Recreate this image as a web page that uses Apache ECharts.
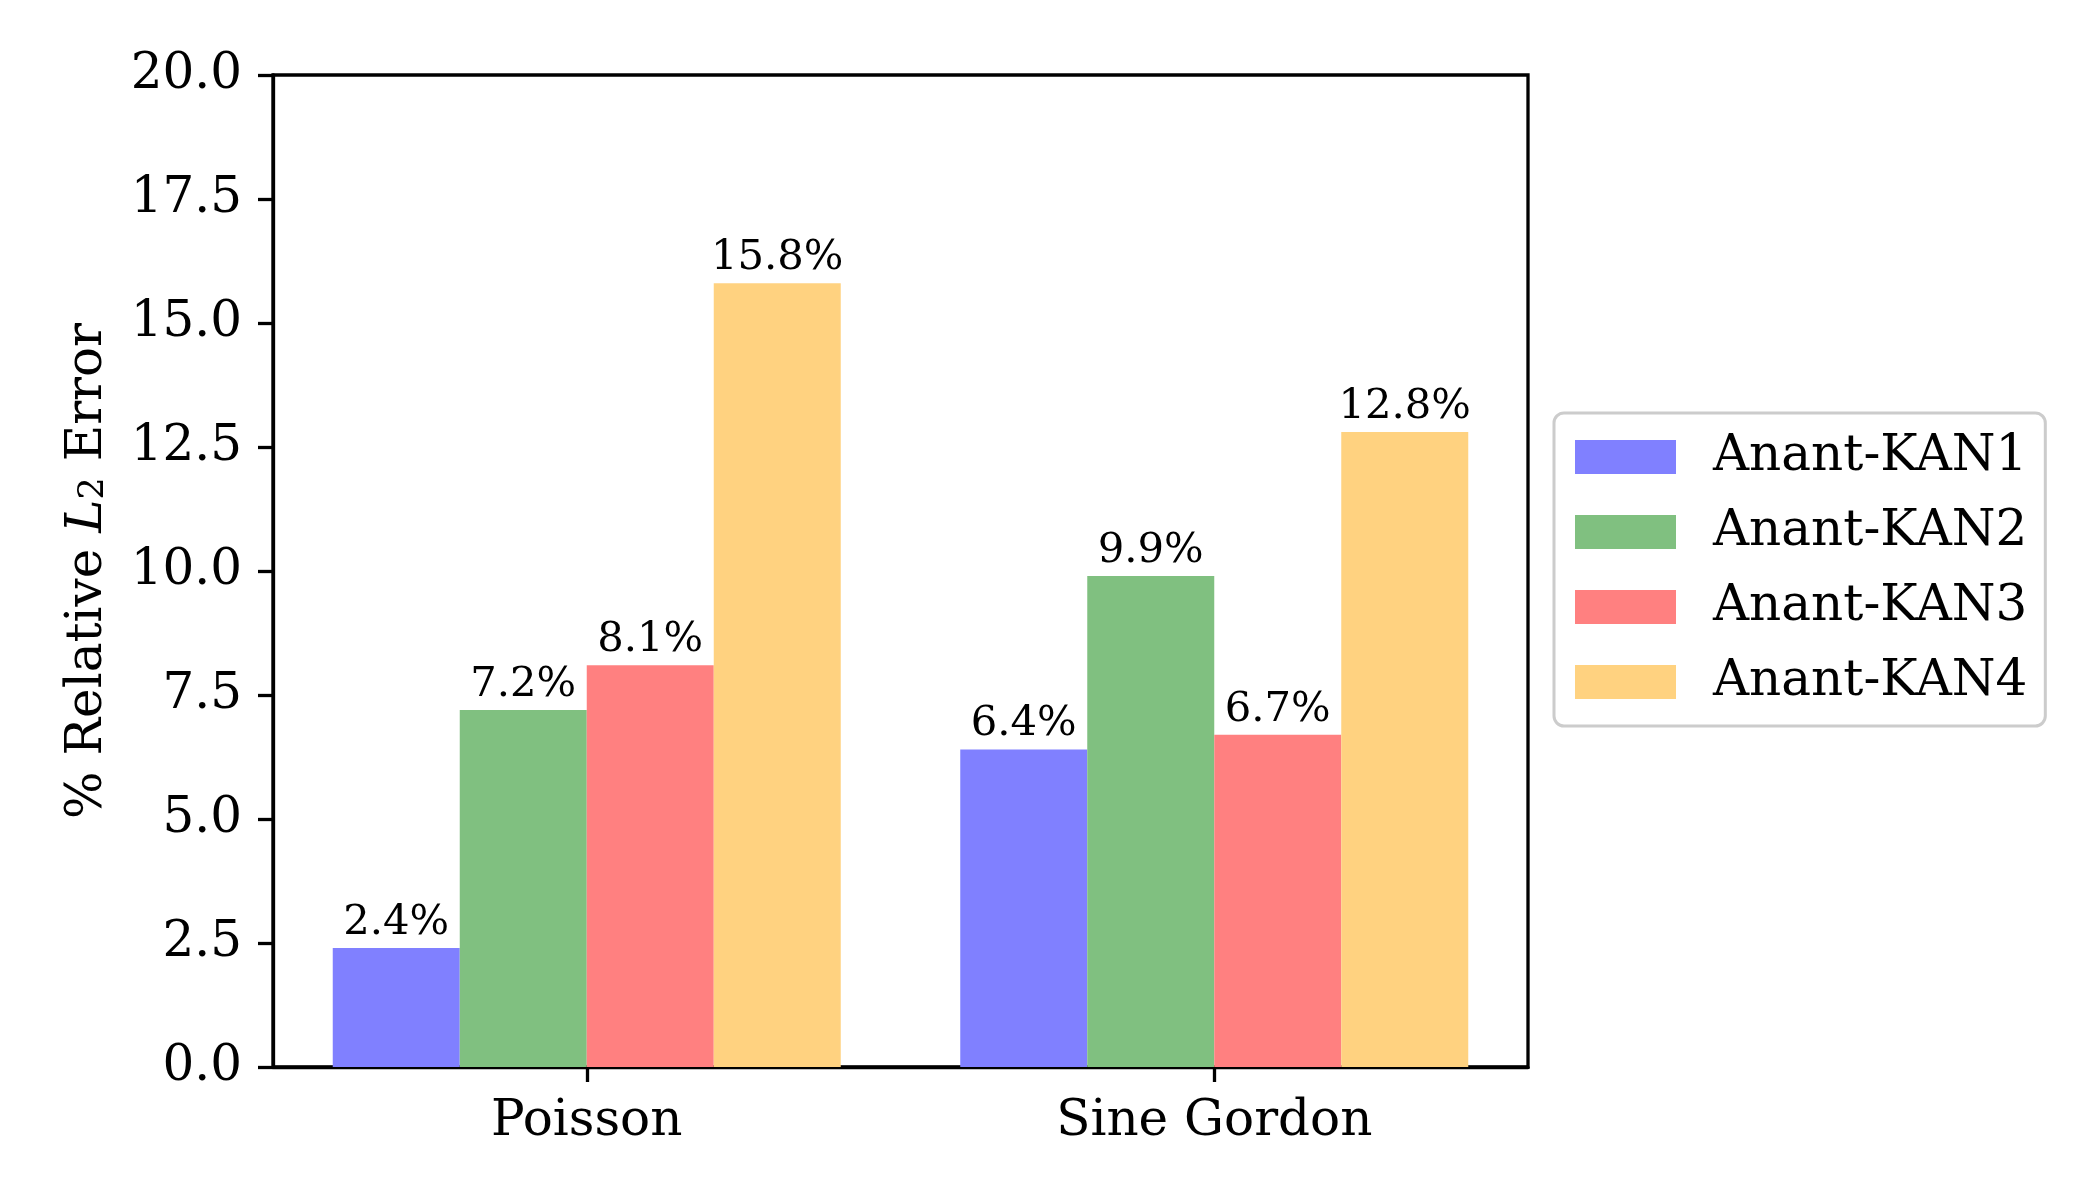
<!DOCTYPE html>
<html>
<head>
<meta charset="utf-8">
<script src="https://cdn.jsdelivr.net/npm/echarts@6/dist/echarts.min.js"></script>
<style>html,body{margin:0;padding:0;background:#fff;}#c{width:2100px;height:1200px;}</style>
</head>
<body>
<div id="c"></div>
<script>
const categories = ['Poisson', 'Sine Gordon'];
const seriesNames = ['Anant-KAN1', 'Anant-KAN2', 'Anant-KAN3', 'Anant-KAN4'];
const kan1 = [2.4, 6.4];
const kan2 = [7.2, 9.9];
const kan3 = [8.1, 6.7];
const kan4 = [15.8, 12.8];
const yTicks = [0, 2.5, 5, 7.5, 10, 12.5, 15, 17.5, 20];

const colors = ['#8080ff', '#80c080', '#ff8080', '#ffd280'];
const FONT = 'DejaVu Serif';
const allData = [kan1, kan2, kan3, kan4];

const chart = echarts.init(document.getElementById('c'), null, {width: 2100, height: 1200});
const option = {
  animation: false,
  backgroundColor: '#fff',
  grid: {left: 273, right: 572, top: 75, bottom: 133, show: true, borderColor: '#000', borderWidth: 3.3, backgroundColor: 'transparent'},
  legend: {
    orient: 'vertical',
    left: 1554, top: 413,
    padding: [19, 18, 19, 21],
    itemWidth: 101, itemHeight: 34, itemGap: 25,
    borderColor: '#cccccc', borderWidth: 3, borderRadius: 10,
    backgroundColor: '#fff',
    icon: 'rect',
    textStyle: {fontFamily: FONT, fontSize: 50, color: '#000', padding: [0, 0, 0, 32]},
    data: seriesNames
  },
  xAxis: {
    type: 'category',
    data: categories,
    axisLine: {show: true, lineStyle: {color: '#000', width: 3.3}},
    axisTick: {show: true, alignWithLabel: true, length: 15, lineStyle: {color: '#000', width: 3.3}},
    axisLabel: {fontFamily: FONT, fontSize: 50, color: '#000', margin: 30},
    splitLine: {show: false}
  },
  yAxis: {
    type: 'value',
    min: yTicks[0], max: yTicks[yTicks.length - 1], interval: 2.5,
    axisLine: {show: true, lineStyle: {color: '#000', width: 3.3}},
    axisTick: {show: true, length: 15, lineStyle: {color: '#000', width: 3.3}},
    axisLabel: {fontFamily: FONT, fontSize: 50, color: '#000', margin: 31, formatter: v => v.toFixed(1)},
    splitLine: {show: false},
    name: '{n|% Relative }{i|L}{s|2}{n| Error}',
    nameLocation: 'middle',
    nameGap: 160,
    nameTextStyle: {
      fontFamily: FONT, fontSize: 50, color: '#000',
      rich: {
        n: {fontFamily: FONT, fontSize: 50, color: '#000'},
        i: {fontFamily: FONT, fontSize: 50, fontStyle: 'italic', color: '#000'},
        s: {fontFamily: FONT, fontSize: 35, color: '#000', padding: [12, 0, 0, 0]}
      }
    }
  },
  series: seriesNames.map((name, k) => ({
    name: name,
    type: 'bar',
    data: allData[k],
    barWidth: 127,
    barGap: '0%',
    itemStyle: {color: colors[k]},
    label: {show: true, position: 'top', distance: 4, fontFamily: FONT, fontSize: 41.7, color: '#000', formatter: p => p.value.toFixed(1) + '%'}
  }))
};
chart.setOption(option);
</script>
</body>
</html>
